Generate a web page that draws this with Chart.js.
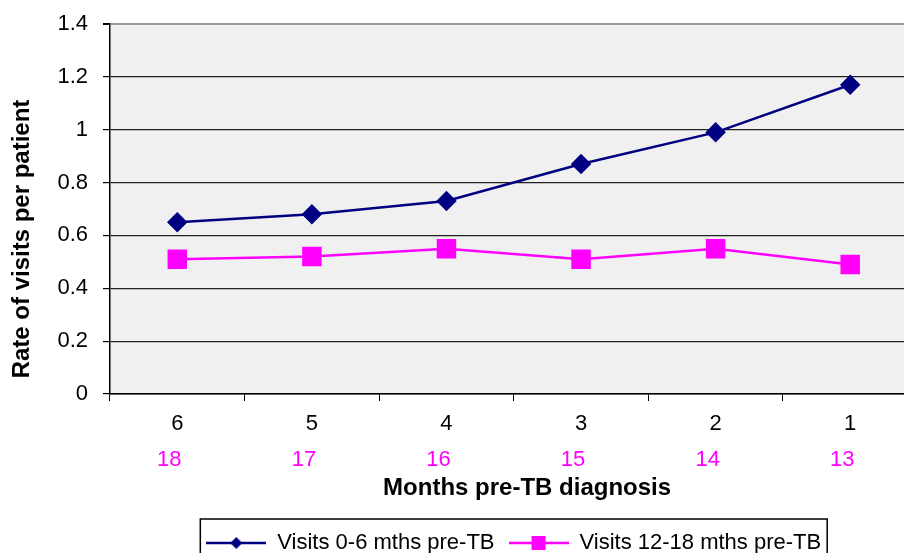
<!DOCTYPE html>
<html>
<head>
<meta charset="utf-8">
<script src="https://cdn.jsdelivr.net/npm/chart.js@4.4.1/dist/chart.umd.min.js"></script>
<style>
html,body{margin:0;padding:0;background:#fff;overflow:hidden;}
#wrap{width:904px;height:553px;overflow:hidden;position:relative;}
canvas{display:block;}
</style>
</head>
<body>
<div id="wrap"><canvas id="c" width="932" height="564"></canvas></div>
<script>
// ---- data ----
const monthsPre = ['6', '5', '4', '3', '2', '1'];
const monthsPreLater = ['18', '17', '16', '15', '14', '13'];
const visits0to6 = [0.65, 0.68, 0.73, 0.87, 0.99, 1.17];
const visits12to18 = [0.51, 0.52, 0.55, 0.51, 0.55, 0.49];
const seriesNames = ['Visits 0-6 mths pre-TB', 'Visits 12-18 mths pre-TB'];
const yTicks = [0, 0.2, 0.4, 0.6, 0.8, 1, 1.2, 1.4];
const yTitle = 'Rate of visits per patient';
const xTitle = 'Months pre-TB diagnosis';

const NAVY = '#000080';
const MAGENTA = '#FF00FF';
const FONT = 'Arial, "Liberation Sans", sans-serif';

function legendIcon(color, shape) {
  const cv = document.createElement('canvas');
  cv.width = 60; cv.height = 20;
  const g = cv.getContext('2d');
  g.strokeStyle = color; g.lineWidth = 2.5;
  g.beginPath(); g.moveTo(0, 10); g.lineTo(60, 10); g.stroke();
  g.fillStyle = color;
  if (shape === 'diamond') {
    g.beginPath(); g.moveTo(30 - 6, 10); g.lineTo(30, 4); g.lineTo(36, 10); g.lineTo(30, 16); g.closePath(); g.fill();
  } else {
    g.fillRect(30 - 7, 3, 14, 14);
  }
  return cv;
}
const icons = [legendIcon(NAVY, 'diamond'), legendIcon(MAGENTA, 'square')];

const plotBg = {
  id: 'plotBg',
  beforeDraw(chart) {
    const a = chart.chartArea, ctx = chart.ctx;
    ctx.save(); ctx.fillStyle = '#F0F0F0';
    ctx.fillRect(a.left, a.top, a.right - a.left, a.bottom - a.top);
    ctx.restore();
  }
};
const legendBorder = {
  id: 'legendBorder',
  afterDraw(chart) {
    const lg = chart.legend;
    if (!lg || !lg.legendHitBoxes || !lg.legendHitBoxes.length) return;
    const hb = lg.legendHitBoxes;
    let l = Infinity, r = -Infinity, cy = 0;
    hb.forEach(h => { l = Math.min(l, h.left); r = Math.max(r, h.left + h.width); cy = h.top + h.height / 2; });
    const ctx = chart.ctx;
    ctx.save(); ctx.strokeStyle = '#000'; ctx.lineWidth = 1.5;
    ctx.strokeRect(l - 6, cy - 24, (r + 6) - (l - 6), 60);
    ctx.restore();
  }
};

new Chart(document.getElementById('c'), {
  type: 'line',
  data: {
    labels: monthsPre,
    datasets: [
      { label: seriesNames[0], data: visits0to6, borderColor: NAVY, backgroundColor: NAVY,
        borderWidth: 2.5, pointStyle: 'rectRot', pointRadius: 8.5, pointHoverRadius: 8.5, tension: 0 },
      { label: seriesNames[1], data: visits12to18, borderColor: MAGENTA, backgroundColor: MAGENTA,
        borderWidth: 2.5, pointStyle: 'rect', pointRadius: 12, pointHoverRadius: 12, tension: 0 }
    ]
  },
  options: {
    responsive: false,
    animation: false,
    devicePixelRatio: 1,
    layout: { padding: { top: 24, right: 3, left: 0, bottom: 0 } },
    plugins: {
      tooltip: { enabled: false },
      legend: {
        position: 'bottom',
        fullSize: false,
        labels: {
          usePointStyle: true,
          pointStyleWidth: 60,
          boxHeight: 20,
          padding: 14,
          color: '#000',
          font: { family: FONT, size: 22 },
          generateLabels(chart) {
            return chart.data.datasets.map((ds, i) => ({
              text: ds.label, pointStyle: icons[i], fillStyle: ds.borderColor,
              strokeStyle: ds.borderColor, lineWidth: 0, hidden: false, datasetIndex: i, fontColor: '#000'
            }));
          }
        }
      }
    },
    scales: {
      y: {
        min: 0, max: 1.4,
        afterBuildTicks(scale) { scale.ticks = yTicks.map(v => ({ value: v })); },
        afterFit(scale) { scale.width = 110; scale.paddingTop = 0; scale.paddingBottom = 0; },
        ticks: { color: '#000', padding: 15, font: { family: FONT, size: 22 },
          callback: v => String(Math.round(v * 10) / 10) },
        grid: {
          color: ctx => (ctx.tick && ctx.tick.value === 1.4) ? '#9a9a9a' : '#222',
          lineWidth: ctx => (ctx.tick && ctx.tick.value === 1.4) ? 2 : 1.2,
          tickColor: '#000', tickLength: 7, drawTicks: true
        },
        border: { display: true, color: '#000', width: 1.5 },
        title: { display: true, text: yTitle + '         ', color: '#000',
          font: { family: FONT, size: 24, weight: 'bold' }, padding: { top: 8, bottom: 0 } }
      },
      x: {
        type: 'category',
        offset: true,
        position: 'bottom',
        afterFit(scale) { scale.height = 45; },
        ticks: { color: '#000', padding: 10, font: { family: FONT, size: 22 }, maxRotation: 0 },
        grid: { offset: true, drawOnChartArea: false, tickLength: 7, tickColor: '#000', color: '#000' },
        border: { display: true, color: '#000', width: 1.5 }
      },
      x2: {
        type: 'category',
        labels: monthsPreLater,
        offset: true,
        position: 'bottom',
        afterFit(scale) { scale.height = 79; },
        ticks: { color: MAGENTA, padding: 8, labelOffset: -8, font: { family: FONT, size: 22 }, maxRotation: 0 },
        grid: { display: false, drawTicks: false },
        border: { display: false },
        title: { display: true, text: '    ' + xTitle, color: '#000',
          font: { family: FONT, size: 24, weight: 'bold' }, padding: { top: 0, bottom: 15 } }
      }
    }
  },
  plugins: [plotBg, legendBorder]
});
</script>
</body>
</html>
